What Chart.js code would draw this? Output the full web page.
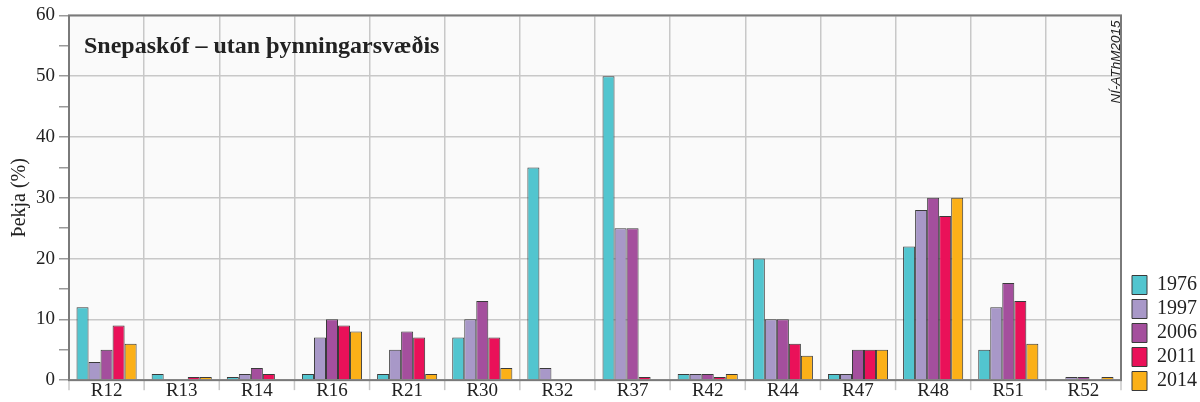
<!DOCTYPE html>
<html>
<head>
<meta charset="utf-8">
<style>
  html, body { margin: 0; padding: 0; background: #fff; }
  #wrap { width: 1200px; height: 402px; }
</style>
</head>
<body>
<div id="wrap"><canvas id="myChart" width="1200" height="402"></canvas></div>
<script src="https://cdn.jsdelivr.net/npm/chart.js"></script>
<script>
const stations = ['R12', 'R13', 'R14', 'R16', 'R21', 'R30', 'R32', 'R37', 'R42', 'R44', 'R47', 'R48', 'R51', 'R52'];
const years = ['1976', '1997', '2006', '2011', '2014'];
const cover1976 = [12, 1, 0.5, 1, 1, 7, 35, 50, 1, 20, 1, 22, 5, 0];
const cover1997 = [3, 0, 1, 7, 5, 10, 2, 25, 1, 10, 1, 28, 12, 0.5];
const cover2006 = [5, 0, 2, 10, 8, 13, 0, 25, 1, 10, 5, 30, 16, 0.5];
const cover2011 = [9, 0.5, 1, 9, 7, 7, 0, 0.5, 0.5, 6, 5, 27, 13, 0];
const cover2014 = [6, 0.5, 0, 8, 1, 2, 0, 0, 1, 4, 5, 30, 6, 0.5];
const colors = ['#52c5cf', '#a898c8', '#a44f9d', '#ea1159', '#fbb018'];
const yTicks = [0, 10, 20, 30, 40, 50, 60];

const serif = '"Liberation Serif", "DejaVu Serif", serif';

// light plot background, frame, title, stamp and x tick marks
const plotDeco = {
    id: 'plotDeco',
    afterLayout(chart) {
        // nudge legend up/right to sit beside the plot like the original
        chart.legend.bottom -= 7;
        chart.legend.left += 7;
    },
    beforeDraw(chart) {
        const {ctx, chartArea: a} = chart;
        ctx.save();
        ctx.fillStyle = '#fafafa';
        ctx.fillRect(a.left, a.top, a.right - a.left, a.bottom - a.top);
        ctx.restore();
    },
    afterDatasetsDraw(chart) {
        const {ctx, chartArea: a} = chart;
        ctx.save();
        // category separators below the axis
        ctx.strokeStyle = '#c8c8c8';
        ctx.lineWidth = 1.5;
        const step = (a.right - a.left) / stations.length;
        for (let i = 0; i <= stations.length; i++) {
            const px = a.left + i * step;
            ctx.beginPath();
            ctx.moveTo(px, a.bottom);
            ctx.lineTo(px, a.bottom + 10);
            ctx.stroke();
        }
        ctx.strokeStyle = '#7a7a7a';
        ctx.lineWidth = 2;
        ctx.strokeRect(a.left, a.top, a.right - a.left, a.bottom - a.top);
        ctx.fillStyle = '#222';
        ctx.font = 'bold 24px ' + serif;
        ctx.textBaseline = 'middle';
        ctx.fillText('Snepaskóf – utan þynningarsvæðis', a.left + 15, a.top + 31);
        ctx.translate(a.right - 5, a.top + 5);
        ctx.rotate(-Math.PI / 2);
        ctx.font = 'italic 13.5px "Liberation Sans", Arial, sans-serif';
        ctx.textAlign = 'right';
        ctx.fillText('NÍ-AThM2015', 0, 0);
        ctx.restore();
    }
};

const series = [cover1976, cover1997, cover2006, cover2011, cover2014];

new Chart(document.getElementById('myChart'), {
    type: 'bar',
    data: {
        labels: stations,
        datasets: years.map((y, i) => ({
            label: y,
            data: series[i],
            backgroundColor: colors[i],
            borderColor: '#3a3a3a',
            borderWidth: 1,
            barPercentage: 1.0,
            categoryPercentage: 0.8
        }))
    },
    options: {
        responsive: false,
        animation: false,
        layout: { padding: { top: 12, right: 0, left: 8, bottom: 0 } },
        scales: {
            x: {
                grid: {
                    offset: true,
                    color: '#c8c8c8',
                    drawTicks: false,
                    lineWidth: 1.5
                },
                border: { display: false },
                ticks: {
                    color: '#222',
                    font: { family: serif, size: 19, lineHeight: 1.15 },
                    padding: 0
                }
            },
            y: {
                min: 0,
                max: 60,
                ticks: {
                    stepSize: 5,
                    color: '#222',
                    font: { family: serif, size: 19 },
                    padding: 4,
                    callback: v => yTicks.includes(v) ? v : ''
                },
                grid: {
                    color: c => (c.tick && c.tick.value % 10 === 0) ? '#c8c8c8' : 'transparent',
                    tickColor: '#9a9a9a',
                    tickLength: 10,
                    lineWidth: 1.5
                },
                border: { display: false },
                title: {
                    display: true,
                    text: 'Þekja (%)',
                    color: '#222',
                    font: { family: serif, size: 20 },
                    padding: 0
                }
            }
        },
        plugins: {
            legend: {
                position: 'right',
                align: 'end',
                labels: {
                    color: '#222',
                    boxWidth: 15,
                    boxHeight: 19,
                    padding: 4,
                    font: { family: serif, size: 20 }
                }
            },
            tooltip: { enabled: false }
        }
    },
    plugins: [plotDeco]
});
</script>
</body>
</html>
